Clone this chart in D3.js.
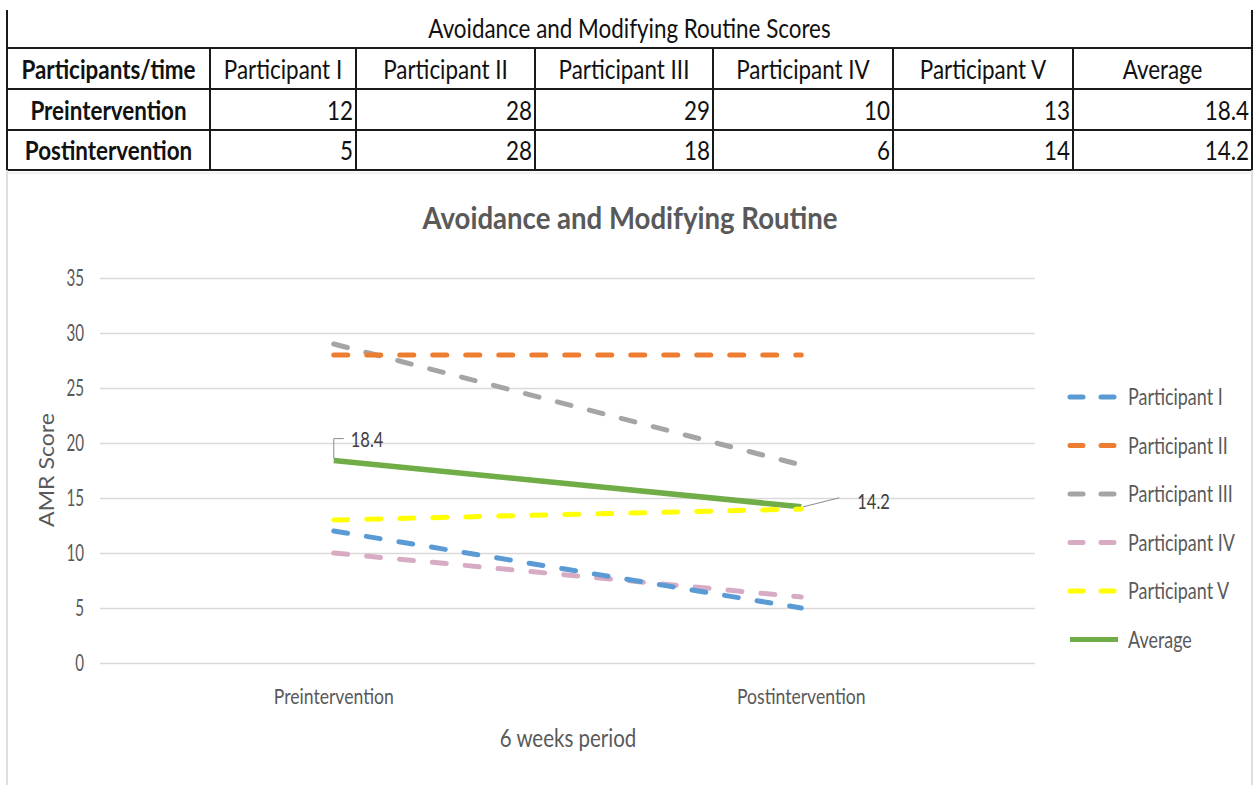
<!DOCTYPE html>
<html>
<head>
<meta charset="utf-8">
<script src="https://cdn.jsdelivr.net/npm/d3@7"></script>
<style>
  html, body { margin: 0; padding: 0; background: #fff; }
  svg { display: block; }
  text { font-family: Lato, "Open Sans", sans-serif; }
</style>
</head>
<body>
<svg id="chart" width="1255" height="785"></svg>
<script>
// Scores table and chart data
const tableTitle = "Avoidance and Modifying Routine Scores";
const chartTitle = "Avoidance and Modifying Routine";
const rowHeader = "Participants/time";
const phases = ["Preintervention", "Postintervention"];
const seriesNames = ["Participant I", "Participant II", "Participant III", "Participant IV", "Participant V", "Average"];
const preScores = [12, 28, 29, 10, 13, 18.4];
const postScores = [5, 28, 18, 6, 14, 14.2];
const yTicks = [0, 5, 10, 15, 20, 25, 30, 35];
const xAxisTitle = "6 weeks period";
const yAxisTitle = "AMR Score";

const colors = ["#5B9BD5", "#ED7D31", "#A5A5A5", "#D8ABC4", "#FFFF00", "#70AD47"];

const svg = d3.select("#chart");

// Condensed text: place at (x, y) and squeeze horizontally by sx
function ctext(parent, x, y, str, o) {
  return parent.append("text")
    .attr("transform", `translate(${x},${y}) scale(${o.sx},1)`)
    .attr("text-anchor", o.anchor || "start")
    .attr("font-size", o.size)
    .attr("font-weight", o.bold ? "bold" : "normal")
    .attr("fill", o.fill || "#111")
    .text(str);
}
// Squeeze text generated by an axis
function squeeze(sel, sx) {
  sel.each(function () {
    const t = d3.select(this);
    const x0 = +t.attr("x") || 0;
    t.attr("x", x0 / sx).attr("transform", `scale(${sx},1)`);
  });
}

// ---------- table ----------
const colEdges = [7, 210, 356, 535, 713, 893, 1073, 1252];
const rowEdges = [10, 48, 89, 130, 170];
const T = { size: 27, sx: 0.83 };
const tbl = svg.append("g");

[colEdges[0], colEdges[7]].forEach(x => {
  tbl.append("line").attr("x1", x).attr("x2", x).attr("y1", rowEdges[0]).attr("y2", rowEdges[4])
    .attr("stroke", "#1a1a1a").attr("stroke-width", 2);
});
rowEdges.slice(1).forEach(y => {
  tbl.append("line").attr("x1", colEdges[0]).attr("x2", colEdges[7]).attr("y1", y).attr("y2", y)
    .attr("stroke", "#1a1a1a").attr("stroke-width", 2.2);
});
colEdges.slice(1, 7).forEach(x => {
  tbl.append("line").attr("x1", x).attr("x2", x).attr("y1", rowEdges[1]).attr("y2", rowEdges[4])
    .attr("stroke", "#1a1a1a").attr("stroke-width", 2);
});

ctext(tbl, (colEdges[0] + colEdges[7]) / 2, 38, tableTitle, { ...T, anchor: "middle" });

const headers = [rowHeader].concat(seriesNames);
headers.forEach((h, i) => {
  ctext(tbl, (colEdges[i] + colEdges[i + 1]) / 2, rowEdges[2] - 10, h, { ...T, anchor: "middle", bold: i === 0 });
});
[[phases[0], preScores], [phases[1], postScores]].forEach(([label, vals], r) => {
  const yb = rowEdges[r + 3] - 10;
  ctext(tbl, (colEdges[0] + colEdges[1]) / 2, yb, label, { ...T, anchor: "middle", bold: true });
  vals.forEach((v, i) => {
    ctext(tbl, colEdges[i + 2] - 3, yb, v, { ...T, anchor: "end" });
  });
});

// chart area border
svg.append("line").attr("x1", 7).attr("x2", 7).attr("y1", 170).attr("y2", 785).attr("stroke", "#d4d4d4").attr("stroke-width", 1.5);
svg.append("line").attr("x1", 1252).attr("x2", 1252).attr("y1", 170).attr("y2", 785).attr("stroke", "#d4d4d4").attr("stroke-width", 1.5);
svg.append("line").attr("x1", 7).attr("x2", 1252).attr("y1", 173).attr("y2", 173).attr("stroke", "#e6e6e6").attr("stroke-width", 1);

// ---------- line chart ----------
const plot = { left: 100, right: 1035, top: 278, bottom: 663 };
const x = d3.scaleBand().domain(phases).range([plot.left, plot.right]);
const y = d3.scaleLinear().domain([0, 35]).range([plot.bottom, plot.top]);
const cx = p => x(p) + x.bandwidth() / 2;
const grey = "#595959";

ctext(svg, 630, 229, chartTitle, { size: 31, sx: 0.89, bold: true, anchor: "middle", fill: grey });

// gridlines + y tick labels
const yAxis = d3.axisLeft(y).tickValues(yTicks).tickSize(-(plot.right - plot.left)).tickPadding(16);
const gy = svg.append("g").attr("transform", `translate(${plot.left},0)`).call(yAxis);
gy.select(".domain").remove();
gy.selectAll(".tick line").attr("stroke", "#d9d9d9").attr("stroke-width", 1.5);
gy.selectAll(".tick text").attr("font-family", null).attr("font-size", 23).attr("fill", grey);
squeeze(gy.selectAll(".tick text"), 0.66);

// x category labels
const xAxis = d3.axisBottom(x).tickSize(0).tickPadding(25);
const gx = svg.append("g").attr("transform", `translate(0,${plot.bottom})`).call(xAxis);
gx.select(".domain").remove();
gx.selectAll(".tick text").attr("font-family", null).attr("font-size", 22).attr("fill", grey);
squeeze(gx.selectAll(".tick text"), 0.8);

// axis titles
ctext(svg, 568, 747, xAxisTitle, { size: 25, sx: 0.82, anchor: "middle", fill: grey });
svg.append("text").attr("transform", "translate(54,470) rotate(-90) scale(1.1,1)").attr("text-anchor", "middle")
  .attr("font-family", "Liberation Sans, Arial, sans-serif").attr("font-size", 21).attr("fill", grey).text(yAxisTitle);

// series lines
const line = d3.line().x(d => cx(d.phase)).y(d => y(d.value));
const series = seriesNames.map((name, i) => ({
  name, color: colors[i], avg: name === "Average",
  values: [{ phase: phases[0], value: preScores[i] }, { phase: phases[1], value: postScores[i] }]
}));
const drawOrder = [5, 4, 3, 0, 2, 1];
drawOrder.forEach(i => {
  const s = series[i];
  svg.append("path").datum(s.values).attr("d", line).attr("fill", "none")
    .attr("stroke", s.color).attr("stroke-width", s.avg ? 5.5 : 5)
    .attr("stroke-dasharray", s.avg ? null : "14,19")
    .attr("stroke-linecap", s.avg ? "butt" : "round");
});

// data labels on the average line with leader lines
const avg = series[5];
const p0 = { x: cx(phases[0]), y: y(avg.values[0].value) };
const p1 = { x: cx(phases[1]), y: y(avg.values[1].value) };
svg.append("path").attr("d", `M${p0.x},${p0.y - 2} L${p0.x},${p0.y - 22} L${p0.x + 10},${p0.y - 22}`)
  .attr("fill", "none").attr("stroke", "#8c8c8c").attr("stroke-width", 1);
ctext(svg, p0.x + 17, p0.y - 14, avg.values[0].value.toFixed(1), { size: 22, sx: 0.75, fill: "#404040" });
svg.append("path").attr("d", `M${p1.x + 2},${p1.y} L${p1.x + 38},${p1.y - 9}`)
  .attr("fill", "none").attr("stroke", "#8c8c8c").attr("stroke-width", 1);
ctext(svg, p1.x + 56, p1.y + 2, avg.values[1].value.toFixed(1), { size: 22, sx: 0.75, fill: "#404040" });

// legend
const legend = svg.append("g").attr("transform", "translate(1068,397)");
series.forEach((s, i) => {
  const g = legend.append("g").attr("transform", `translate(0,${i * 48.5})`);
  g.append("line").attr("x1", 2).attr("x2", s.avg ? 50 : 48).attr("y1", 0).attr("y2", 0)
    .attr("stroke", s.color).attr("stroke-width", 5)
    .attr("stroke-dasharray", s.avg ? null : "13,18")
    .attr("stroke-linecap", s.avg ? "butt" : "round");
  ctext(g, 60, 8, s.name, { size: 23, sx: 0.78, fill: grey });
});
</script>
</body>
</html>
